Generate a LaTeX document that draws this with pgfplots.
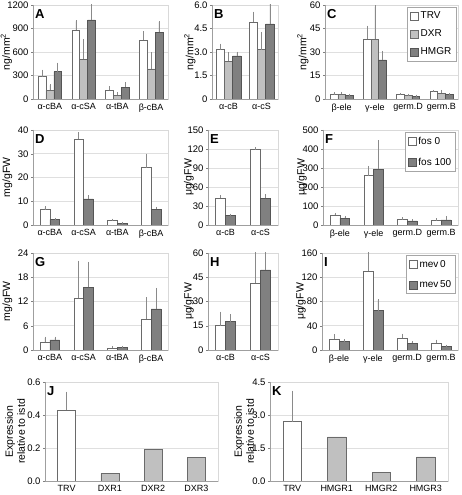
\documentclass[border=0pt]{standalone}
\usepackage{fontspec}
\setmainfont{Liberation Sans}
\usepackage{pgfplots}
\pgfplotsset{compat=1.18}
\definecolor{lg}{HTML}{C0C0C0}
\definecolor{dg}{HTML}{808080}
\definecolor{edge}{HTML}{6A6A6A}
\definecolor{errc}{HTML}{8A8A8A}
\tikzset{
 bw/.style={fill=white, draw=edge, line width=0.5pt},
 bl/.style={fill=lg, draw=edge, line width=0.5pt},
 bd/.style={fill=dg, draw=edge!80!black, line width=0.5pt},
 letter/.style={anchor=north west, inner sep=0pt, xshift=2pt, yshift=-4pt, font=\bfseries\fontsize{13}{13}\selectfont},
}
\pgfplotsset{
 panel/.style={
   scale only axis,
   ymin=0, xmin=-0.5, xmax=3.5,
   axis line style={draw=gray!30},
   ymajorgrids, grid style={gray!25, line width=0.5pt},
   xtick={0,1,2,3},
   xtick style={draw=none},
   ytick style={draw=gray, line width=0.4pt},
   tick pos=left,
   major tick length=2pt,
   tick align=outside,
   yticklabel style={font=\fontsize{9.5}{10}\selectfont, xshift=1pt},
   xticklabel style={font=\fontsize{9}{10}\selectfont, yshift=1pt},
   /pgf/number format/assume math mode=true,
   /pgf/number format/1000 sep={},
   every axis y label/.style={rotate=90, anchor=center, font=\fontsize{10.5}{12}\selectfont},
   after end axis/.code={\draw[gray!75, line width=0.5pt] (rel axis cs:0,1) -- (rel axis cs:0,0) -- (rel axis cs:1,0);},
   error bars/y dir=plus, error bars/y explicit,
   error bars/error bar style={errc, line width=0.5pt},
   error bars/error mark options={errc, mark size=1.2pt, line width=0.5pt},
   legend image code/.code={\draw[##1,/tikz/.cd, line width=0.5pt] (0pt,-4pt) rectangle (8pt,4pt);},
 },
 yl/.style={ylabel style={at={([xshift=#1]axis description cs:0,0.5)}}},
 leg/.style={legend style={at={(rel axis cs:0.985,0.975)}, anchor=north east, draw=gray!70, line width=0.5pt, font=\fontsize{10}{11}\selectfont, row sep=#1, inner sep=2.5pt, cells={anchor=west}}},
}
\begin{document}
\begin{tikzpicture}
\useasboundingbox (0pt,0pt) rectangle (462pt,495pt);
% ---------- A ----------
\begin{axis}[panel, at={(33pt,396pt)}, anchor=south west, width=135pt, height=94pt,
  ymax=1200, ytick={0,300,600,900,1200}, xticklabels={α-cBA,α-cSA,α-tBA,β-cBA},
  ylabel={ng/mm\textsuperscript{2}}, yl=-26.5pt]
\addplot[ybar, bar width=0.23, bar shift=0pt, bw] coordinates {(-0.23,285) +- (0,75) (0.77,880) +- (0,110) (1.77,110) +- (0,40) (2.77,750) +- (0,100)};
\addplot[ybar, bar width=0.23, bar shift=0pt, bl] coordinates {(0,110) +- (0,65) (1,510) +- (0,240) (2,50) +- (0,20) (3,385) +- (0,195)};
\addplot[ybar, bar width=0.23, bar shift=0pt, bd] coordinates {(0.23,350) +- (0,100) (1.23,1010) +- (0,250) (2.23,150) +- (0,50) (3.23,850) +- (0,130)};
\node[letter] at (rel axis cs:0,1) {A};
\end{axis}
% ---------- B ----------
\begin{axis}[panel, at={(212pt,396pt)}, anchor=south west, width=66pt, height=94pt,
  xmax=1.5, xtick={0,1}, ymax=6, ytick={0,1.5,3,4.5,6}, yticklabels={0,1.5,3.0,4.5,6.0}, xticklabels={α-cB,α-cS},
  ylabel={ng/mm\textsuperscript{2}}, yl=-22pt]
\addplot[ybar, bar width=0.25, bar shift=0pt, bw] coordinates {(-0.25,3.15) +- (0,0.3) (0.75,4.9) +- (0,0.6)};
\addplot[ybar, bar width=0.25, bar shift=0pt, bl] coordinates {(0,2.4) +- (0,0.5) (1,3.15) +- (0,1.05)};
\addplot[ybar, bar width=0.25, bar shift=0pt, bd] coordinates {(0.25,2.75) +- (0,0.2) (1.25,4.8) +- (0,1.3)};
\node[letter] at (rel axis cs:0,1) {B};
\end{axis}
% ---------- C ----------
\begin{axis}[panel, at={(325pt,396pt)}, anchor=south west, width=133pt, height=94pt,
  ymax=60, ytick={0,15,30,45,60}, xticklabels={β-ele,γ-ele,germ.D,germ.B},
  ylabel={ng/mm\textsuperscript{2}}, yl=-22pt, leg=5.5pt]
\addplot[ybar, bar width=0.23, bar shift=0pt, bw] coordinates {(-0.23,3.2) +- (0,0.4) (0.77,38) +- (0,8) (1.77,2.8) +- (0,0.3) (2.77,4.7) +- (0,0.3)};
\addplot[ybar, bar width=0.23, bar shift=0pt, bl] coordinates {(0,3) +- (0,0.8) (1,38) +- (0,21) (2,2.3) +- (0,0.3) (3,3.8) +- (0,1.2)};
\addplot[ybar, bar width=0.23, bar shift=0pt, bd] coordinates {(0.23,2.3) +- (0,0.3) (1.23,25) +- (0,5) (2.23,1.8) +- (0,0.2) (3.23,2.8) +- (0,0.2)};
\legend{TRV,DXR,HMGR}
\node[letter] at (rel axis cs:0,1) {C};
\end{axis}
% ---------- D ----------
\begin{axis}[panel, at={(33pt,270pt)}, anchor=south west, width=135pt, height=95pt,
  ymax=40, ytick={0,10,20,30,40}, xticklabels={α-cBA,α-cSA,α-tBA,β-cBA},
  ylabel={mg/gFW}, yl=-25.5pt]
\addplot[ybar, bar width=0.29, bar shift=0pt, bw] coordinates {(-0.145,6.5) +- (0,0.8) (0.855,36) +- (0,2.5) (1.855,1.8) +- (0,0.4) (2.855,24.2) +- (0,5.3)};
\addplot[ybar, bar width=0.29, bar shift=0pt, bd] coordinates {(0.145,2.3) +- (0,0.2) (1.145,11) +- (0,1) (2.145,0.7) +- (0,0.1) (3.145,6.7) +- (0,0.4)};
\node[letter] at (rel axis cs:0,1) {D};
\end{axis}
% ---------- E ----------
\begin{axis}[panel, at={(208pt,270pt)}, anchor=south west, width=70pt, height=95pt,
  xmax=1.5, xtick={0,1}, ymax=150, ytick={0,30,60,90,120,150}, xticklabels={α-cB,α-cS},
  ylabel={μg/gFW}, yl=-19pt]
\addplot[ybar, bar width=0.29, bar shift=0pt, bw] coordinates {(-0.145,42) +- (0,3) (0.855,120) +- (0,0.5)};
\addplot[ybar, bar width=0.29, bar shift=0pt, bd] coordinates {(0.145,15) +- (0,1) (1.145,42) +- (0,5)};
\node[letter] at (rel axis cs:0,1) {E};
\end{axis}
% ---------- F ----------
\begin{axis}[panel, at={(323pt,270pt)}, anchor=south west, width=135pt, height=95pt,
  ymax=500, ytick={0,100,200,300,400,500}, xticklabels={β-ele,γ-ele,germ.D,germ.B},
  ylabel={μg/gFW}, yl=-21pt, leg=8pt]
\addplot[ybar, bar width=0.29, bar shift=0pt, bw] coordinates {(-0.145,52) +- (0,5) (0.855,260) +- (0,45) (1.855,30) +- (0,4) (2.855,27) +- (0,2)};
\addplot[ybar, bar width=0.29, bar shift=0pt, bd] coordinates {(0.145,36) +- (0,6) (1.145,293) +- (0,147) (2.145,22) +- (0,3) (3.145,27) +- (0,13)};
\legend{fos 0,fos 100}
\node[letter] at (rel axis cs:0,1) {F};
\end{axis}
% ---------- G ----------
\begin{axis}[panel, at={(33pt,145pt)}, anchor=south west, width=135pt, height=97pt,
  ymax=24, ytick={0,6,12,18,24}, xticklabels={α-cBA,α-cSA,α-tBA,β-cBA},
  ylabel={mg/gFW}, yl=-25.5pt]
\addplot[ybar, bar width=0.29, bar shift=0pt, bw] coordinates {(-0.145,2) +- (0,1) (0.855,12.8) +- (0,9) (1.855,0.5) +- (0,0.2) (2.855,7.7) +- (0,5)};
\addplot[ybar, bar width=0.29, bar shift=0pt, bd] coordinates {(0.145,2.5) +- (0,0.5) (1.145,15.5) +- (0,6) (2.145,0.7) +- (0,0.05) (3.145,10.2) +- (0,4.9)};
\node[letter] at (rel axis cs:0,1) {G};
\end{axis}
% ---------- H ----------
\begin{axis}[panel, at={(208pt,145pt)}, anchor=south west, width=70pt, height=97pt,
  xmax=1.5, xtick={0,1}, ymax=60, ytick={0,15,30,45,60}, xticklabels={α-cB,α-cS},
  ylabel={μg/gFW}, yl=-19pt]
\addplot[ybar, bar width=0.29, bar shift=0pt, bw] coordinates {(-0.145,15) +- (0,8) (0.855,41.5) +- (0,25)};
\addplot[ybar, bar width=0.29, bar shift=0pt, bd] coordinates {(0.145,17.5) +- (0,4) (1.145,49.5) +- (0,11)};
\node[letter] at (rel axis cs:0,1) {H};
\end{axis}
% ---------- I ----------
\begin{axis}[panel, at={(322pt,145pt)}, anchor=south west, width=136pt, height=97pt,
  ymax=160, ytick={0,40,80,120,160}, xticklabels={β-ele,γ-ele,germ.D,germ.B},
  ylabel={μg/gFW}, yl=-21pt, leg=8pt]
\addplot[ybar, bar width=0.29, bar shift=0pt, bw] coordinates {(-0.145,18) +- (0,6) (0.855,130) +- (0,40) (1.855,19) +- (0,6) (2.855,11) +- (0,4)};
\addplot[ybar, bar width=0.29, bar shift=0pt, bd] coordinates {(0.145,14) +- (0,2) (1.145,65) +- (0,17) (2.145,11) +- (0,2) (3.145,6) +- (0,1)};
\legend{mev\,0,mev\,50}
\node[letter] at (rel axis cs:0,1) {I};
\end{axis}
% ---------- J ----------
\begin{axis}[panel, at={(45pt,14pt)}, anchor=south west, width=173pt, height=99pt,
  ymax=0.6, ytick={0,0.2,0.4,0.6}, yticklabels={0.0,0.2,0.4,0.6}, xticklabels={TRV,DXR1,DXR2,DXR3},
  ylabel={Expression\\relative to istd}, ylabel style={align=center}, yl=-30pt]
\addplot[ybar, bar width=0.42, bar shift=0pt, bw] coordinates {(0,0.43) +- (0,0.105)};
\addplot[ybar, bar width=0.42, bar shift=0pt, bl] coordinates {(1,0.045) (2,0.19) (3,0.145)};
\node[letter] at (rel axis cs:0,1) {J};
\end{axis}
% ---------- K ----------
\begin{axis}[panel, at={(270pt,14pt)}, anchor=south west, width=178pt, height=99pt,
  ymax=4.5, ytick={0,1.5,3,4.5}, yticklabels={0.0,1.5,3.0,4.5}, xticklabels={TRV,HMGR1,HMGR2,HMGR3},
  ylabel={Expression\\relative to istd}, ylabel style={align=center}, yl=-26pt]
\addplot[ybar, bar width=0.41, bar shift=0pt, bw] coordinates {(0,2.7) +- (0,1.35)};
\addplot[ybar, bar width=0.41, bar shift=0pt, bl] coordinates {(1,2.0) (2,0.4) (3,1.1)};
\node[letter] at (rel axis cs:0,1) {K};
\end{axis}
\end{tikzpicture}
\end{document}
